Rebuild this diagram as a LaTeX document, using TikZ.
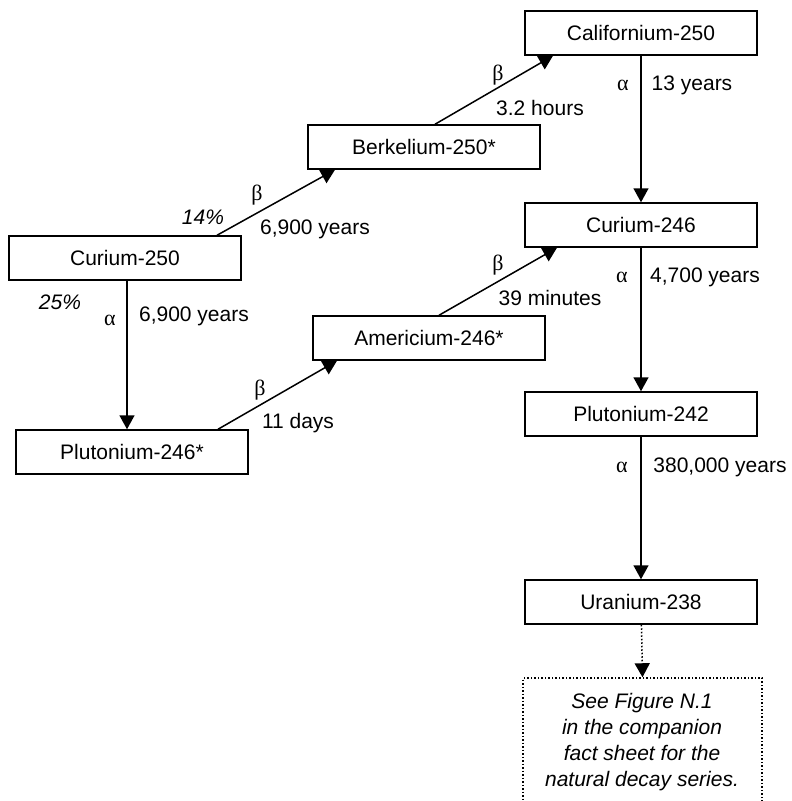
\documentclass[tikz,border=0pt]{standalone}
\usepackage{fontspec}
\setmainfont{Liberation Sans}
\newfontfamily\greekfont{Liberation Serif}
\usetikzlibrary{arrows.meta}
\begin{document}
\begin{tikzpicture}[x=1pt,y=-1pt,>={Triangle[length=14pt,width=15pt]},line width=1.5pt]
    \tikzstyle{box}=[draw,minimum width=232pt,minimum height=44pt,inner sep=0pt,font=\fontsize{21}{26}\selectfont]
    \tikzstyle{lbl}=[inner sep=0pt,font=\fontsize{21}{26}\selectfont]
    \tikzstyle{grk}=[inner sep=0pt,font=\fontsize{22}{26}\selectfont\greekfont]
    \useasboundingbox (0,0) rectangle (792,801);

      \node (cf250) at (641, 33)  [box] {Californium-250};
      \node (bk250) at (424, 147) [box] {Berkelium-250*};
      \node (cm250) at (125, 258) [box] {Curium-250};
      \node (cm246) at (641, 225) [box] {Curium-246};
      \node (am246) at (429, 338) [box] {Americium-246*};
      \node (pu246) at (132, 452) [box] {Plutonium-246*};
      \node (pu242) at (641, 414) [box] {Plutonium-242};
      \node (u238)  at (641, 602) [box] {Uranium-238};
      \node (note)  at (642.5, 748) [draw,dotted,minimum width=239pt,minimum height=140pt] {};
      \node (notetext) at (642, 742) [lbl,align=center,font=\fontsize{21}{26}\selectfont\itshape]
        {See Figure N.1\\in the companion\\fact sheet for the\\natural decay series.};

      \draw[->] ([xshift=92pt]cm250.north) -- ([xshift=-89pt]bk250.south);
      \draw[->] ([xshift=11pt]bk250.north) -- ([xshift=-88pt]cf250.south);
      \draw[->] ([xshift=2pt]cm250.south) -- ([xshift=2pt]cm250.south |- pu246.north);
      \draw[->] ([xshift=86pt]pu246.north) -- ([xshift=-92pt]am246.south);
      \draw[->] ([xshift=10pt]am246.north) -- ([xshift=-84pt]cm246.south);
      \draw[->] (cf250) -- (cm246);
      \draw[->] (cm246) -- (pu242);
      \draw[->] (pu242) -- (u238);
      \draw[->,dotted] (u238) -- (note.north);

      \node (p14) at (203, 217) [lbl,font=\fontsize{21}{26}\selectfont\itshape] {14\%};
      \node (b1) at (257, 195) [grk] {β};
      \node (t1) at (315, 229) [lbl] {6,900 years};
      \node (p25) at (60, 302) [lbl,font=\fontsize{21}{26}\selectfont\itshape] {25\%};
      \node (a1) at (110, 320) [grk] {α};
      \node (t2) at (194, 316) [lbl] {6,900 years};
      \node (b2) at (498, 75)  [grk] {β};
      \node (t3) at (540, 108) [lbl] {3.2 hours};
      \node (a2) at (623, 85)  [grk] {α};
      \node (t4) at (692, 85)  [lbl] {13 years};
      \node (b3) at (498, 265) [grk] {β};
      \node (t5) at (550, 298) [lbl] {39 minutes};
      \node (a3) at (622, 277) [grk] {α};
      \node (t6) at (705, 277) [lbl] {4,700 years};
      \node (b4) at (260, 390) [grk] {β};
      \node (t7) at (298, 423) [lbl] {11 days};
      \node (a4) at (622, 467) [grk] {α};
      \node (t8) at (720, 467) [lbl] {380,000 years};
  \end{tikzpicture}
\end{document}
